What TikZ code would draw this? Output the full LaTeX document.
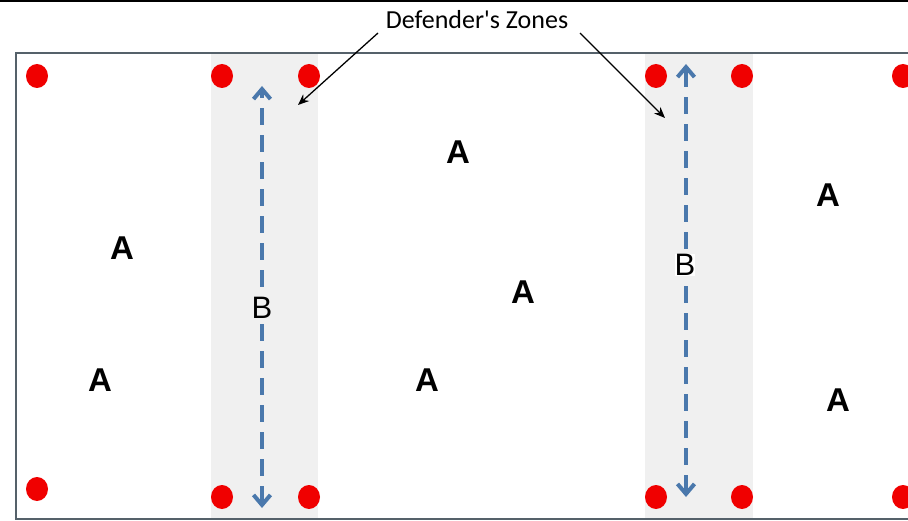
\documentclass[tikz,border=0pt]{standalone}
\usepackage{fontspec}
\setmainfont{Liberation Sans}
\newfontfamily\calib{Carlito}
\usetikzlibrary{arrows.meta,shapes.geometric}
\definecolor{zonegray}{HTML}{F0F0F0}
\definecolor{bordergray}{HTML}{55616A}
\definecolor{arrowblue}{HTML}{4A78AC}
\definecolor{dotred}{HTML}{F00000}
\tikzset{
  cone/.style={ellipse,fill=dotred,draw=none,minimum width=22pt,minimum height=24pt,inner sep=0pt},
  letterA/.style={font=\fontsize{33}{36}\selectfont\bfseries,inner sep=1pt},
  letterB/.style={font=\fontsize{31}{34}\selectfont,inner sep=1pt},
  runarrow/.style={draw=arrowblue,line width=4pt,dash pattern=on 17pt off 10pt,{Straight Barb[length=10pt,width=17pt,line width=4pt]}-{Straight Barb[length=10pt,width=17pt,line width=4pt]}},
  callout/.style={draw=black,line width=1.3pt,-{Stealth[length=11pt,width=9pt]}},
  zone/.style={fill=zonegray,draw=none}
}
\begin{document}
\begin{tikzpicture}[x=1pt,y=-1pt]
\useasboundingbox (0,0) rectangle (908,521);
\clip (0,0) rectangle (908,521);
\fill[black] (0,0) rectangle (908,2.5);
% zones
\path[zone] (211,54) rectangle (318,518);
\path[zone] (645,54) rectangle (753,518);
% field border
\draw[bordergray,line width=2pt] (930,53) -- (15.5,53) -- (15.5,519) -- (930,519);
% cones
\node[cone] (t1) at (37,76) {};
\node[cone] (t2) at (222,76) {};
\node[cone] (t3) at (309,76) {};
\node[cone] (t4) at (656,76) {};
\node[cone] (t5) at (742,76) {};
\node[cone] (t6) at (903,76) {};
\node[cone] (b1) at (37,489) {};
\node[cone] (b2) at (222,497) {};
\node[cone] (b3) at (309,497) {};
\node[cone] (b4) at (656,497) {};
\node[cone] (b5) at (742,497) {};
\node[cone] (b6) at (903,497) {};
% run arrows
\coordinate (l1) at (262,86);
\coordinate (l2) at (262,508);
\coordinate (r1) at (686,64);
\coordinate (r2) at (686,497);
\draw[runarrow] (l2) -- (l1);
\draw[runarrow] (r2) -- (r1);
\node[letterB,fill=zonegray] (B1) at (262,308) {B};
\node[letterB,fill=white,inner sep=0pt] (B2) at (685,265) {B};
% A labels
\node[letterA] (a1) at (122,248) {A};
\node[letterA] (a2) at (100,380) {A};
\node[letterA] (a3) at (458,152) {A};
\node[letterA] (a4) at (523,292) {A};
\node[letterA] (a5) at (427,380) {A};
\node[letterA] (a6) at (828,195) {A};
\node[letterA] (a7) at (838,400) {A};
% callout
\node[font=\calib\fontsize{26}{28}\selectfont,inner sep=1pt] (dz) at (477,20) {Defender's Zones};
\coordinate (z1) at (298,105);
\coordinate (z2) at (665,118);
\draw[callout] (378,33) -- (z1);
\draw[callout] (580,33) -- (z2);
\end{tikzpicture}
\end{document}
